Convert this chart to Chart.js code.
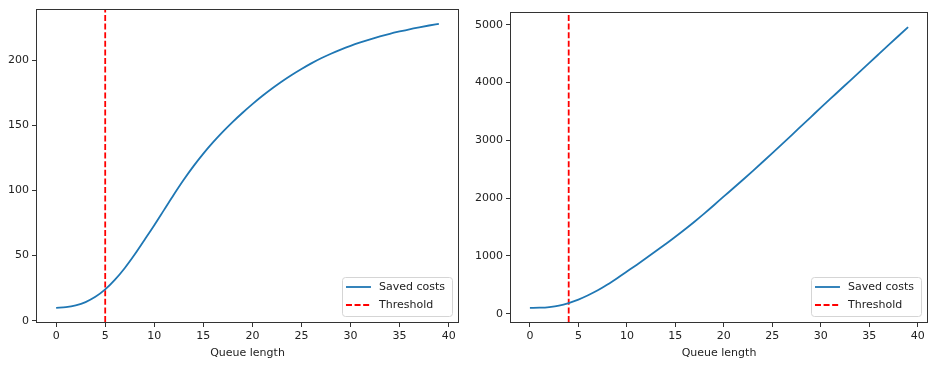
<!DOCTYPE html>
<html>
<head>
<meta charset="utf-8">
<script src="https://cdn.jsdelivr.net/npm/chart.js@4.4.1/dist/chart.umd.min.js"></script>
<style>
  body { margin: 0; background: #fff; }
  #wrap { position: relative; width: 934px; height: 390px; overflow: hidden; }
  canvas { position: absolute; top: 0; }
</style>
</head>
<body>
<div id="wrap">
  <canvas id="chartLeft" width="467" height="390" style="left:0"></canvas>
  <canvas id="chartRight" width="467" height="390" style="left:467px"></canvas>
</div>
<script>
// queue lengths shared by both panels
const queueLength = [0, 1, 2, 3, 4, 5, 6, 7, 8, 9, 10, 11, 12, 13, 14, 15, 16, 17, 18, 19,
    20, 21, 22, 23, 24, 25, 26, 27, 28, 29, 30, 31, 32, 33, 34, 35, 36, 37, 38, 39];

// left panel: saturating curve
const savedCostsLeft = [9.9, 10.4, 11.8, 14.3, 18.3, 24, 31.5, 40.5, 50.8, 62,
    73.3, 85.1, 96.9, 108.2, 118.7, 128.3, 137.1, 145.2, 152.7, 159.7,
    166.3, 172.5, 178.3, 183.7, 188.7, 193.3, 197.6, 201.5, 205, 208.2,
    211.1, 213.7, 216.1, 218.3, 220.3, 222.1, 223.8, 225.3, 226.7, 228];

// right panel: nearly linear growth
const savedCostsRight = [100, 104, 116, 140, 185, 245, 320, 405, 505, 615,
    730, 845, 963, 1084, 1207, 1332, 1462, 1597, 1737, 1882,
    2030, 2175, 2323, 2473, 2625, 2779, 2935, 3092, 3250, 3408,
    3566, 3721, 3876, 4031, 4186, 4341, 4496, 4651, 4806, 4961];

const thresholdLeft = 5;
const thresholdRight = 4;

const xTicks = [0, 5, 10, 15, 20, 25, 30, 35, 40];
const yTicksLeft = [0, 50, 100, 150, 200];
const yTicksRight = [0, 1000, 2000, 3000, 4000, 5000];

const FONT = 'DejaVu Sans';
const TEXT = '#222';
Chart.defaults.font.family = FONT;

// matplotlib-like 5% margins
function padRange(vals) {
    const lo = Math.min(...vals), hi = Math.max(...vals);
    const m = (hi - lo) * 0.05;
    return [lo - m, hi + m];
}

const framePlugin = {
    id: 'frame',
    afterDatasetsDraw(chart) {
        const a = chart.chartArea, ctx = chart.ctx;
        ctx.save();
        ctx.strokeStyle = '#333';
        ctx.lineWidth = 1;
        const l = Math.round(a.left) - 0.5, t = Math.round(a.top) - 0.5;
        const r = Math.round(a.right) + 0.5, b = Math.round(a.bottom) + 0.5;
        ctx.strokeRect(l, t, r - l, b - t);
        ctx.restore();
    }
};

// legend in the lower right corner, inside the axes
const boxLegend = {
    id: 'boxLegend',
    afterDraw(chart) {
        const ctx = chart.ctx, a = chart.chartArea;
        const sets = chart.data.datasets;
        ctx.save();
        ctx.font = '11px "' + FONT + '"';
        const tw = Math.max(...sets.map(d => ctx.measureText(d.label).width));
        const w = 37 + tw + 7, h = 39;
        const x = a.right - 6 - w, y = a.bottom - 6 - h;
        ctx.beginPath();
        ctx.roundRect(Math.round(x) + 0.5, Math.round(y) + 0.5, Math.round(w), Math.round(h), 3);
        ctx.fillStyle = 'rgba(255,255,255,0.85)';
        ctx.fill();
        ctx.strokeStyle = '#d5d5d5';
        ctx.lineWidth = 1;
        ctx.stroke();
        sets.forEach((d, i) => {
            const cy = Math.round(y + 9.5 + i * 18);
            ctx.beginPath();
            ctx.setLineDash(d.borderDash || []);
            ctx.strokeStyle = d.borderColor;
            ctx.lineWidth = d.borderWidth;
            ctx.moveTo(x + 4, cy);
            ctx.lineTo(x + 29, cy);
            ctx.stroke();
            ctx.setLineDash([]);
            ctx.fillStyle = TEXT;
            ctx.textBaseline = 'middle';
            ctx.fillText(d.label, x + 37, cy + 0.5);
        });
        ctx.restore();
    }
};

function makeChart(id, values, threshold, yTicks, yAxisWidth, padding) {
    const [xMin, xMax] = padRange(queueLength);
    const [yMin, yMax] = padRange(values);
    const tickFont = { family: FONT, size: 11 };

    return new Chart(document.getElementById(id).getContext('2d'), {
        type: 'line',
        data: {
            datasets: [
                {
                    label: 'Saved costs',
                    data: queueLength.map((q, i) => ({ x: q, y: values[i] })),
                    borderColor: '#1f77b4',
                    borderWidth: 1.8,
                    pointRadius: 0,
                    cubicInterpolationMode: 'monotone',
                },
                {
                    label: 'Threshold',
                    data: [{ x: threshold, y: yMin }, { x: threshold, y: yMax }],
                    borderColor: '#ff0000',
                    borderWidth: 1.8,
                    borderDash: [6, 2.6],
                    pointRadius: 0,
                },
            ],
        },
        options: {
            responsive: false,
            animation: false,
            devicePixelRatio: 1,
            layout: { padding: padding },
            plugins: {
                legend: { display: false },
                tooltip: { enabled: false },
            },
            scales: {
                x: {
                    type: 'linear',
                    min: xMin,
                    max: xMax,
                    afterBuildTicks: s => { s.ticks = xTicks.map(v => ({ value: v })); },
                    ticks: { color: TEXT, font: tickFont, padding: 3, maxRotation: 0 },
                    grid: { drawOnChartArea: false, tickLength: 5, color: '#333' },
                    border: { display: false },
                    title: {
                        display: true,
                        text: 'Queue length',
                        color: TEXT,
                        font: tickFont,
                        padding: { top: 0, bottom: 0 },
                    },
                },
                y: {
                    type: 'linear',
                    min: yMin,
                    max: yMax,
                    afterBuildTicks: s => { s.ticks = yTicks.map(v => ({ value: v })); },
                    afterFit: s => { s.width = yAxisWidth; },
                    ticks: {
                        color: TEXT,
                        font: tickFont,
                        padding: 3,
                        callback: v => String(v),
                    },
                    grid: { drawOnChartArea: false, tickLength: 5, color: '#333' },
                    border: { display: false },
                },
            },
        },
        plugins: [framePlugin, boxLegend],
    });
}

makeChart('chartLeft', savedCostsLeft, thresholdLeft, yTicksLeft, 37,
    { left: 0, top: 7, right: 9, bottom: 30.6 });
makeChart('chartRight', savedCostsRight, thresholdRight, yTicksRight, 44,
    { left: 0, top: 13, right: 7, bottom: 30.6 });
</script>
</body>
</html>
